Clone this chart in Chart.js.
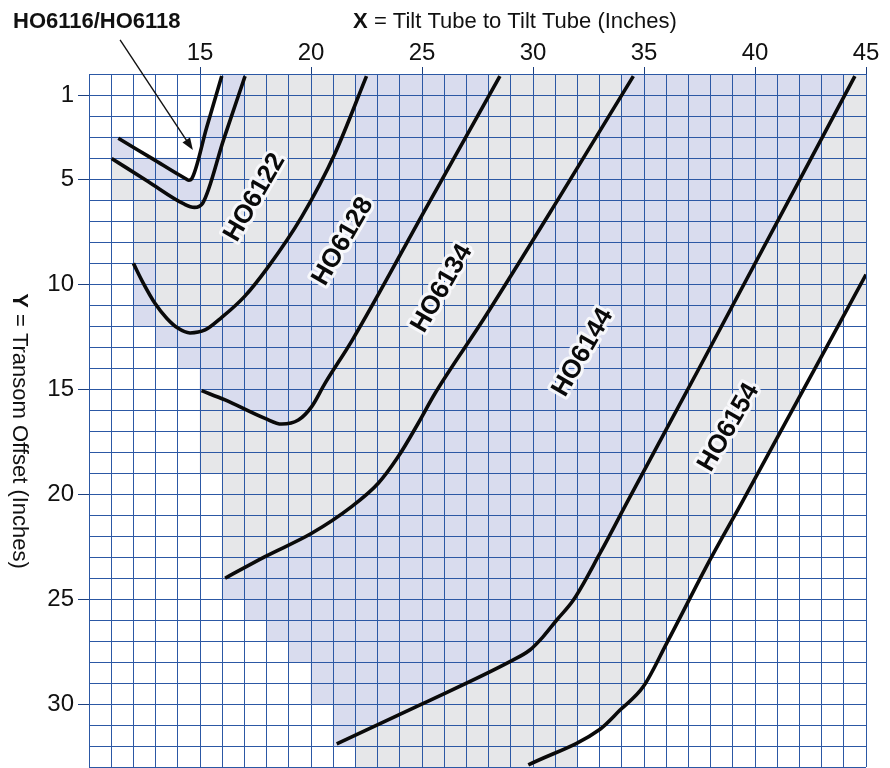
<!DOCTYPE html>
<html>
<head>
<meta charset="utf-8">
<script src="https://cdn.jsdelivr.net/npm/chart.js@4.4.1/dist/chart.umd.min.js"></script>
<style>
html,body{margin:0;padding:0;background:#ffffff;overflow:hidden;}
#wrap{width:890px;height:768px;position:relative;}
</style>
</head>
<body>
<div id="wrap"><canvas id="chart"></canvas></div>
<script>
// ---------- data ----------
const xTickLabels = [15, 20, 25, 30, 35, 40, 45];
const yTickLabels = [1, 5, 10, 15, 20, 25, 30];
const zoneNames = ['HO6116/HO6118', 'HO6122', 'HO6128', 'HO6134', 'HO6144', 'HO6154'];

// shaded cells of each zone: [row, fromX, toX]
const rowsH06116 = [[0,16,17],[1,16,17],[2,15,16],[3,11,12],[3,15,16],[4,12,14],[4,15,16],[5,13,15]];
const rowsH06122 = [[0,17,22],[1,17,22],[2,16,22],[3,16,21],[4,11,12],[4,16,21],[5,11,13],[5,15,20],[6,12,20],[7,12,19],[8,12,18],[9,13,18],[10,13,17],[11,13,16]];
const rowsH06128 = [[0,22,28],[1,22,28],[2,22,27],[3,21,27],[4,21,26],[5,20,26],[6,20,25],[7,19,25],[8,18,24],[9,12,13],[9,18,24],[10,12,13],[10,17,23],[11,12,13],[11,16,22],[12,13,22],[13,14,21],[14,15,21],[15,16,20],[16,18,19]];
const rowsH06134 = [[0,28,34],[1,28,34],[2,27,33],[3,27,33],[4,26,32],[5,26,31],[6,25,31],[7,25,30],[8,24,30],[9,24,29],[10,23,29],[11,22,28],[12,22,27],[13,21,27],[14,21,26],[15,15,16],[15,20,25],[16,15,18],[16,19,25],[17,15,24],[18,15,24],[19,16,23],[20,16,22],[21,16,21],[22,16,19],[23,16,17]];
const rowsH06144 = [[0,34,44],[1,34,44],[2,33,43],[3,33,43],[4,32,43],[5,31,42],[6,31,41],[7,30,41],[8,30,40],[9,29,40],[10,29,39],[11,28,39],[12,27,38],[13,27,37],[14,26,37],[15,25,37],[16,25,36],[17,24,36],[18,24,35],[19,23,35],[20,22,34],[21,21,34],[22,19,33],[23,17,33],[24,16,32],[25,17,31],[26,18,31],[27,19,30],[28,20,28],[29,20,26],[30,21,24],[31,21,22]];
const rowsH06154 = [[0,44,45],[1,44,45],[2,43,45],[3,43,45],[4,43,45],[5,42,45],[6,41,45],[7,41,45],[8,40,45],[9,40,45],[10,39,45],[11,39,44],[12,38,43],[13,37,43],[14,37,42],[15,37,42],[16,36,41],[17,36,41],[18,35,40],[19,35,40],[20,34,39],[21,34,39],[22,33,38],[23,33,38],[24,32,37],[25,31,37],[26,31,36],[27,30,36],[28,28,35],[29,26,35],[30,24,34],[31,22,32],[32,22,32]];

// boundary curves: [x, y]
const curveH06116 = [[11.32,3.06],[12.85,4.03],[14.38,5.0],[14.5,5.06],[14.62,5.0],[15.3,2.55],[15.98,0.1]];
const curveH06118 = [[11.02,4.02],[12.66,5.12],[14.3,6.2],[14.75,6.35],[15.12,6.15],[16.07,3.1],[17.03,0.1]];
const curveH06122 = [[12.0,9.02],[12.45,9.97],[12.97,10.92],[13.5,11.63],[14.0,12.1],[14.55,12.33],[15.23,12.19],[15.98,11.59],[17.0,10.6],[18.08,9.17],[19.58,6.8],[21.08,3.78],[22.5,0.1]];
const curveH06128 = [[15.07,15.08],[16.13,15.52],[17.93,16.4],[18.68,16.67],[19.43,16.48],[20.03,15.84],[20.63,14.73],[21.86,12.67],[25.2,6.35],[28.51,0.1]];
const curveH06134 = [[16.13,24.01],[17.93,22.98],[20.03,21.87],[21.83,20.6],[23.03,19.49],[23.93,18.22],[24.83,16.63],[25.59,15.2],[27.8,11.63],[31.2,5.85],[34.52,0.1]];
const curveH06144 = [[21.16,31.9],[25.06,29.97],[28.96,27.98],[29.86,27.43],[30.46,26.79],[31.07,26.0],[31.82,25.05],[33.02,22.82],[34.29,20.29],[37.52,13.94],[44.5,0.1]];
const curveH06154 = [[29.79,32.9],[33.02,31.2],[33.92,30.29],[34.97,29.17],[36.02,27.11],[37.97,23.14],[39.47,20.29],[45.0,9.55]];

// zone labels
const regionLabels = ['HO6122', 'HO6128', 'HO6134', 'HO6144', 'HO6154'];
const regionLabelX = [17.43, 21.4, 25.86, 32.21, 38.78];
const regionLabelY = [5.86, 7.95, 10.19, 13.24, 16.81];
const pointerLabel = 'HO6116/HO6118';
const pointerArrowX = [11.4, 14.68];
const pointerArrowY = [-1.62, 3.62];
const xTitleParts = ['X', ' = Tilt Tube to Tilt Tube (Inches)'];
const yTitleParts = ['Y', ' = Transom Offset (Inches)'];

// ---------- styles ----------
const LAVENDER = '#d9dcee';
const GREY = '#e6e7e9';
const GRID = '#2c58a4';
const TICKFONT = '"Liberation Sans", Arial, sans-serif';
const TITLEFONT = '"Liberation Sans", Arial, sans-serif';

const zoneRows = [rowsH06116, rowsH06122, rowsH06128, rowsH06134, rowsH06144, rowsH06154];
const curves = [curveH06116, curveH06118, curveH06122, curveH06128, curveH06134, curveH06144, curveH06154];

const fillSets = zoneRows.map((rows, i) => ({
  type: 'bar',
  label: zoneNames[i],
  indexAxis: 'y',
  data: rows.map(([r, a, b]) => ({ y: r + 0.5, x: [a, b] })),
  backgroundColor: i % 2 === 0 ? LAVENDER : GREY,
  borderWidth: 0,
  barPercentage: 1,
  categoryPercentage: 1,
  grouped: false,
  order: 10
}));

const curveSets = curves.map((pts, i) => ({
  type: 'line',
  label: 'boundary ' + (i + 1),
  indexAxis: 'x',
  data: pts.map(([x, y]) => ({ x, y })),
  borderColor: '#0a0a0a',
  borderWidth: 3.6,
  pointRadius: 0,
  fill: false,
  cubicInterpolationMode: 'monotone',
  borderCapStyle: 'butt',
  borderJoinStyle: 'round',
  order: 0
}));

// redraw the scale grid over the shaded cells, below the curves
const gridOverFills = {
  id: 'gridOverFills',
  beforeDatasetsDraw(chart) { chart.$gridDone = false; },
  beforeDatasetDraw(chart, args) {
    if (!chart.$gridDone && args.meta.type === 'line') {
      chart.$gridDone = true;
      const ctx = chart.ctx;
      ctx.save();
      chart.scales.x.drawGrid(chart.chartArea);
      chart.scales.y.drawGrid(chart.chartArea);
      ctx.restore();
    }
  }
};

const textPlugin = {
  id: 'texts',
  afterDraw(chart) {
    const { ctx } = chart;
    const xs = chart.scales.x, ys = chart.scales.y;
    ctx.save();
    ctx.fillStyle = '#111';
    const reg = '22px ' + TITLEFONT;
    const bold = 'bold 22px ' + TITLEFONT;
    function mixed(parts, cx, cy, rot) {
      ctx.save();
      ctx.translate(cx, cy);
      ctx.rotate(rot);
      ctx.textBaseline = 'alphabetic';
      ctx.textAlign = 'left';
      ctx.font = bold; const w0 = ctx.measureText(parts[0]).width;
      ctx.font = reg; const w1 = ctx.measureText(parts[1]).width;
      const s = -(w0 + w1) / 2;
      ctx.font = bold; ctx.fillText(parts[0], s, 0);
      ctx.font = reg; ctx.fillText(parts[1], s + w0, 0);
      ctx.restore();
    }
    mixed(xTitleParts, 515, 28, 0);
    mixed(yTitleParts, 13, 431, Math.PI / 2);

    // pointer label + arrow
    ctx.font = 'bold 22px ' + TITLEFONT;
    ctx.textAlign = 'left';
    ctx.textBaseline = 'alphabetic';
    ctx.fillText(pointerLabel, 13, 28);
    const ax0 = xs.getPixelForValue(pointerArrowX[0]), ay0 = ys.getPixelForValue(pointerArrowY[0]);
    const ax1 = xs.getPixelForValue(pointerArrowX[1]), ay1 = ys.getPixelForValue(pointerArrowY[1]);
    const ang = Math.atan2(ay1 - ay0, ax1 - ax0);
    ctx.strokeStyle = '#111';
    ctx.lineWidth = 1.4;
    ctx.beginPath();
    ctx.moveTo(ax0, ay0);
    ctx.lineTo(ax1 - 8 * Math.cos(ang), ay1 - 8 * Math.sin(ang));
    ctx.stroke();
    ctx.beginPath();
    ctx.moveTo(ax1, ay1);
    ctx.lineTo(ax1 - 12 * Math.cos(ang) + 4.5 * Math.sin(ang), ay1 - 12 * Math.sin(ang) - 4.5 * Math.cos(ang));
    ctx.lineTo(ax1 - 12 * Math.cos(ang) - 4.5 * Math.sin(ang), ay1 - 12 * Math.sin(ang) + 4.5 * Math.cos(ang));
    ctx.closePath();
    ctx.fill();

    // zone labels
    ctx.font = 'bold 26px ' + TITLEFONT;
    ctx.textAlign = 'center';
    ctx.textBaseline = 'middle';
    ctx.lineJoin = 'round';
    regionLabels.forEach((t, i) => {
      ctx.save();
      ctx.translate(xs.getPixelForValue(regionLabelX[i]), ys.getPixelForValue(regionLabelY[i]));
      ctx.rotate(-60 * Math.PI / 180);
      ctx.strokeStyle = 'rgba(250,250,252,0.92)';
      ctx.lineWidth = 6;
      ctx.strokeText(t, 0, 1);
      ctx.fillStyle = '#0a0a0a';
      ctx.fillText(t, 0, 1);
      ctx.restore();
    });
    ctx.restore();
  }
};

new Chart(document.getElementById('chart'), {
  type: 'bar',
  data: { datasets: [...curveSets, ...fillSets] },
  options: {
    indexAxis: 'y',
    responsive: true,
    maintainAspectRatio: false,
    animation: false,
    events: [],
    layout: { padding: { left: 0, right: 24, top: 0, bottom: 1 } },
    plugins: { legend: { display: false }, tooltip: { enabled: false }, title: { display: false } },
    scales: {
      x: {
        type: 'linear',
        position: 'top',
        min: 10, max: 45,
        offset: false,
        beginAtZero: false,
        grid: {
          offset: false,
          color: GRID,
          lineWidth: 1,
          tickLength: 7,
          tickColor: c => (c.tick && xTickLabels.includes(c.tick.value)) ? '#1b3f80' : 'rgba(0,0,0,0)'
        },
        border: { color: GRID, width: 1 },
        ticks: {
          stepSize: 1,
          maxTicksLimit: 100,
          autoSkip: false,
          maxRotation: 0,
          padding: -1,
          color: '#111',
          font: { family: TICKFONT, size: 24 },
          callback: v => xTickLabels.includes(v) ? String(v) : ''
        },
        afterFit: s => { s.height = 74; s.paddingLeft = 0; s.paddingRight = 0; }
      },
      y: {
        type: 'linear',
        position: 'left',
        reverse: true,
        min: 0, max: 33,
        offset: false,
        grid: {
          offset: false,
          color: GRID,
          lineWidth: 1,
          tickLength: 11,
          tickColor: c => (c.tick && yTickLabels.includes(c.tick.value)) ? '#1b3f80' : 'rgba(0,0,0,0)'
        },
        border: { color: GRID, width: 1 },
        ticks: {
          stepSize: 1,
          maxTicksLimit: 100,
          autoSkip: false,
          padding: 4,
          color: '#111',
          font: { family: TICKFONT, size: 24 },
          callback: v => yTickLabels.includes(v) ? String(v) : ''
        },
        afterFit: s => { s.width = 89; s.paddingTop = 0; s.paddingBottom = 0; }
      }
    }
  },
  plugins: [gridOverFills, textPlugin]
});
</script>
</body>
</html>
